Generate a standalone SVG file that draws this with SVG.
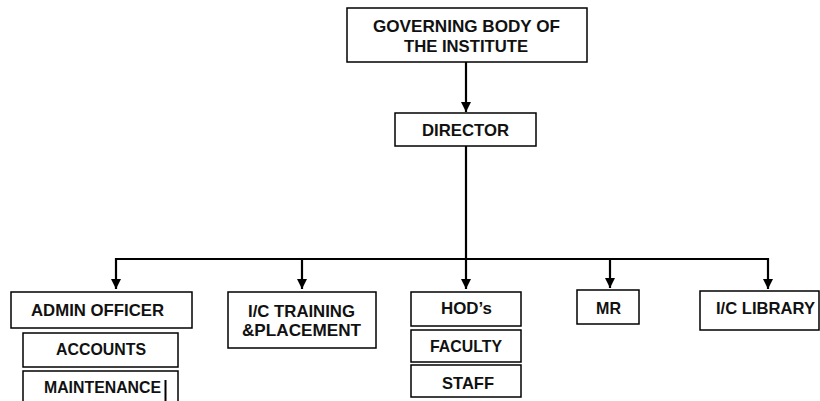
<svg xmlns="http://www.w3.org/2000/svg" width="820" height="401" viewBox="0 0 820 401">
<defs>
<marker id="ah" viewBox="0 0 10 10" refX="10" refY="5" markerWidth="10" markerHeight="10" markerUnits="userSpaceOnUse" orient="auto">
<path d="M0,0 L10,5 L0,10 z" fill="#000"/>
</marker>
<style>
.box{fill:#fff;stroke:#000;stroke-width:1.5}
.t{font-family:"Liberation Sans",Arial,sans-serif;font-weight:bold;font-size:16.5px;fill:#111}
.c{fill:none;stroke:#000;stroke-width:2.2}
</style>
</defs>
<rect width="820" height="401" fill="#fff"/>
<g id="connectors">
<line class="c" x1="466" y1="62" x2="466" y2="112" marker-end="url(#ah)"/>
<line class="c" x1="466" y1="146" x2="466" y2="289" marker-end="url(#ah)"/>
<polyline class="c" points="116,259 768,259 768,289" marker-end="url(#ah)"/>
<line class="c" x1="116" y1="258" x2="116" y2="289" marker-end="url(#ah)"/>
<line class="c" x1="302" y1="259" x2="302" y2="289" marker-end="url(#ah)"/>
<line class="c" x1="610" y1="259" x2="610" y2="288" marker-end="url(#ah)"/>
</g>
<g id="governing">
<rect class="box" x="347" y="8" width="240" height="54"/>
<text class="t" x="373" y="32" textLength="187" lengthAdjust="spacingAndGlyphs">GOVERNING BODY OF</text>
<text class="t" x="404" y="52" textLength="124" lengthAdjust="spacingAndGlyphs">THE INSTITUTE</text>
</g>
<g id="director">
<rect class="box" x="395" y="113" width="141" height="33"/>
<text class="t" x="422" y="136" textLength="87" lengthAdjust="spacingAndGlyphs">DIRECTOR</text>
</g>
<g id="admin">
<rect class="box" x="11" y="292" width="181" height="36"/>
<text class="t" x="31" y="316" textLength="133" lengthAdjust="spacingAndGlyphs">ADMIN OFFICER</text>
</g>
<g id="accounts">
<rect class="box" x="23" y="333" width="155" height="34"/>
<text class="t" x="56" y="355" textLength="90" lengthAdjust="spacingAndGlyphs">ACCOUNTS</text>
</g>
<g id="maintenance">
<rect class="box" x="23" y="371" width="155" height="40"/>
<text class="t" x="44" y="393" textLength="117" lengthAdjust="spacingAndGlyphs">MAINTENANCE</text>
<line x1="165.5" y1="380" x2="165.5" y2="401" stroke="#000" stroke-width="2"/>
</g>
<g id="training">
<rect class="box" x="228" y="292" width="148" height="56"/>
<text class="t" x="248" y="317" textLength="107" lengthAdjust="spacingAndGlyphs">I/C TRAINING</text>
<text class="t" x="242" y="336" textLength="119" lengthAdjust="spacingAndGlyphs">&amp;PLACEMENT</text>
</g>
<g id="hods">
<rect class="box" x="411" y="292" width="110" height="34"/>
<text class="t" x="441" y="314" textLength="51" lengthAdjust="spacingAndGlyphs">HOD’s</text>
</g>
<g id="faculty">
<rect class="box" x="411" y="330" width="110" height="32"/>
<text class="t" x="430" y="352" textLength="72" lengthAdjust="spacingAndGlyphs">FACULTY</text>
</g>
<g id="staff">
<rect class="box" x="411" y="365" width="110" height="32"/>
<text class="t" x="442" y="389" textLength="52" lengthAdjust="spacingAndGlyphs">STAFF</text>
</g>
<g id="mr">
<rect class="box" x="577" y="290" width="62" height="34"/>
<text class="t" x="596" y="314" textLength="25" lengthAdjust="spacingAndGlyphs">MR</text>
</g>
<g id="library">
<rect class="box" x="700" y="291" width="119" height="39"/>
<text class="t" x="716" y="314" textLength="99" lengthAdjust="spacingAndGlyphs">I/C LIBRARY</text>
</g>
</svg>
